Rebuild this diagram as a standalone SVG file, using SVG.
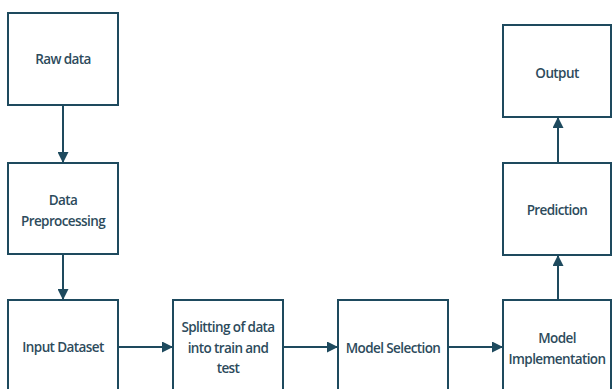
<svg xmlns="http://www.w3.org/2000/svg" width="612" height="389" viewBox="0 0 612 389">
<style>
.box{fill:#fff;stroke:#1e4a5e;stroke-width:2}
.lbl{font-family:"Open Sans","Noto Sans",sans-serif;font-size:13.5px;font-weight:600;fill:#2d4b5c;text-anchor:middle;dominant-baseline:central;letter-spacing:-0.6px}
.edge{stroke:#1e4a5e;stroke-width:2;fill:none;marker-end:url(#ah)}
</style>
<defs>
<marker id="ah" viewBox="0 0 10 10" refX="10" refY="5" markerWidth="5.5" markerHeight="5.5" orient="auto" markerUnits="strokeWidth">
<path d="M0,0 L10,5 L0,10 z" fill="#1e4a5e"/>
</marker>
</defs>
<rect width="612" height="389" fill="#fff"/>
<g id="connectors">
<line class="edge" x1="63" y1="105" x2="63" y2="163"/>
<line class="edge" x1="63" y1="254" x2="63" y2="300"/>
<line class="edge" x1="118" y1="347" x2="173" y2="347"/>
<line class="edge" x1="283" y1="347" x2="338" y2="347"/>
<line class="edge" x1="448" y1="347" x2="503" y2="347"/>
<line class="edge" x1="558" y1="300" x2="558" y2="255"/>
<line class="edge" x1="558" y1="163" x2="558" y2="117"/>
</g>
<g id="raw-data">
<rect class="box" x="8" y="13" width="110" height="92"/>
<text class="lbl" x="63" y="59">Raw data</text>
</g>
<g id="data-preprocessing">
<rect class="box" x="8" y="163" width="110" height="91"/>
<text class="lbl" x="63" y="200">Data</text>
<text class="lbl" x="63" y="221">Preprocessing</text>
</g>
<g id="input-dataset">
<rect class="box" x="8" y="300" width="110" height="100"/>
<text class="lbl" x="63" y="347">Input Dataset</text>
</g>
<g id="splitting">
<rect class="box" x="173" y="300" width="110" height="100"/>
<text class="lbl" x="228" y="327">Splitting of data</text>
<text class="lbl" x="228" y="348">into train and</text>
<text class="lbl" x="228" y="368">test</text>
</g>
<g id="model-selection">
<rect class="box" x="338" y="300" width="110" height="100"/>
<text class="lbl" x="393" y="348">Model Selection</text>
</g>
<g id="model-implementation">
<rect class="box" x="503" y="300" width="108" height="100"/>
<text class="lbl" x="557" y="338">Model</text>
<text class="lbl" x="557" y="359">Implementation</text>
</g>
<g id="prediction">
<rect class="box" x="503" y="163" width="108" height="92"/>
<text class="lbl" x="557" y="210">Prediction</text>
</g>
<g id="output">
<rect class="box" x="503" y="25" width="108" height="92"/>
<text class="lbl" x="557" y="73">Output</text>
</g>
</svg>
